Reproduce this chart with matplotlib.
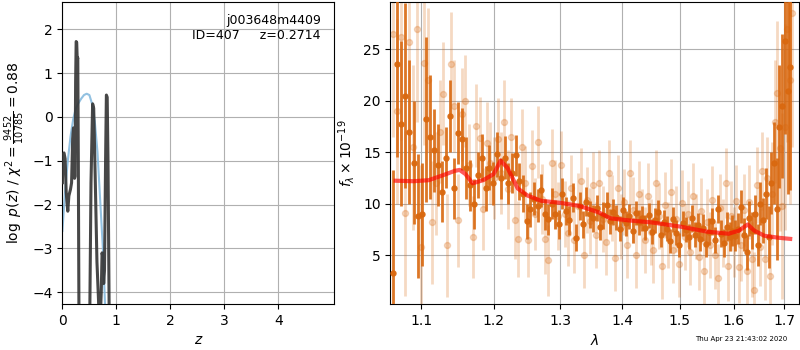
import numpy as np
import matplotlib
matplotlib.use('Agg')
import matplotlib.pyplot as plt
from matplotlib.ticker import NullLocator, FixedLocator

# redshift PDF
z_pdf = [0.0, 0.01, 0.03, 0.05, 0.07, 0.085, 0.1, 0.12, 0.15, 0.17, 0.19, 0.205, 0.215,
         0.225, 0.235, 0.245, 0.255, 0.265, 0.275, 0.285, 0.295, 0.31, 0.45, 0.5, 0.53,
         0.56, 0.58, 0.61, 0.64, 0.67, 0.69, 0.72, 0.735, 0.75, 0.765, 0.78, 0.8, 0.815,
         0.83, 0.845, 0.87, 0.9]
logp = [-1.5, -0.85, -0.82, -0.95, -1.7, -1.95, -2.15, -1.8, -1.65, -1.5, -0.5, -0.25, -0.3,
        -1.4, -1.35, 0.8, 1.72, 1.7, 1.3, 1.35, -1.0, -5.5, -8.0, -5.5, -1.5,
        0.3, 0.2, -1.5, -3.3, -4.2, -5.0, -4.0, -3.1, -3.2, -3.8, -3.5, -1.0, 0.5,
        0.45, -1.0, -5.0, -8.0]

z_smooth = [0.0, 0.05, 0.1, 0.15, 0.2, 0.25, 0.3, 0.35, 0.4, 0.45, 0.5, 0.55, 0.6, 0.65,
            0.7, 0.75, 0.8]
logp_smooth = [-2.6, -1.7, -1.0, -0.45, -0.05, 0.2, 0.32, 0.42, 0.5, 0.53, 0.5, 0.3, -0.1,
               -0.8, -1.9, -3.0, -4.6]

# spectrum 1 (dark)
wave1 = np.linspace(1.063, 1.712, 120)
flux1 = [3.3, 23.6, 17.8, 20.5, 17.0, 14.0, 8.8, 9.0, 18.2, 16.5,
         15.2, 13.8, 11.2, 14.5, 18.5, 11.5, 16.9, 16.3, 13.5, 11.8,
         10.0, 12.8, 14.5, 11.5, 13.5, 12.0, 14.8, 12.5, 14.5, 12.0,
         13.0, 14.7, 12.2, 11.0, 8.3, 9.5, 10.5, 9.8, 11.3, 9.0,
         8.5, 10.0, 9.0, 8.0, 11.0, 9.3, 8.4, 10.6, 6.7, 9.8,
         8.0, 10.2, 9.0, 8.6, 9.6, 7.8, 8.9, 9.9, 8.3, 9.2,
         8.7, 7.6, 9.4, 8.1, 8.8, 7.4, 9.1, 8.2, 8.6, 7.7,
         8.9, 7.3, 8.4, 9.2, 7.0, 8.2, 7.6, 6.4, 8.5, 7.2,
         6.0, 8.1, 7.5, 6.8, 8.6, 7.0, 7.9, 6.6, 7.7, 6.1,
         7.3, 8.3, 6.5, 9.5, 7.1, 6.2, 7.8, 6.8, 7.4, 6.9,
         7.6, 9.7, 7.0, 5.3, 8.6, 7.4, 9.0, 6.0, 10.0, 8.4,
         11.0, 6.8, 12.0, 14.0, 9.5, 17.5, 19.5, 25.8, 21.0, 23.3]
err1 = [10, 9, 8, 9, 7, 6, 6, 5, 8, 6,
        4, 4, 3, 3, 3.5, 3, 3, 3, 3, 2.5,
        2.4, 2.2, 2.3, 2.2, 2.2, 2.1, 2.2, 2.0, 2.1, 2.0,
        1.9, 2.0, 1.8, 1.8, 1.7, 1.7, 1.6, 1.6, 1.6, 1.5,
        1.5, 1.5, 1.4, 1.4, 1.5, 1.4, 1.4, 1.4, 1.3, 1.4,
        1.3, 1.4, 1.3, 1.3, 1.3, 1.3, 1.3, 1.3, 1.2, 1.3,
        1.2, 1.2, 1.3, 1.2, 1.2, 1.2, 1.2, 1.2, 1.2, 1.2,
        1.2, 1.2, 1.2, 1.2, 1.2, 1.2, 1.2, 1.2, 1.2, 1.2,
        1.2, 1.2, 1.2, 1.2, 1.3, 1.2, 1.2, 1.2, 1.3, 1.3,
        1.3, 1.3, 1.3, 1.4, 1.3, 1.4, 1.4, 1.4, 1.5, 1.5,
        1.5, 1.6, 1.6, 1.7, 1.7, 1.8, 1.9, 2.0, 2.1, 2.2,
        2.5, 3, 3, 4, 5, 6, 7, 9, 10, 12]

# spectrum 2 (light)
wave2 = np.linspace(1.064, 1.716, 130)
flux2 = [26.5, 19.0, 26.2, 9.1, 25.7, 15.5, 27.0, 5.8, 23.7, 22.0,
         8.2, 12.0, 17.0, 20.7, 6.0, 23.6, 19.5, 8.4, 18.7, 20.0,
         13.8, 6.8, 17.6, 16.4, 9.5, 15.9, 14.0, 12.5, 16.3, 13.0,
         18.0, 11.4, 16.5, 8.4, 6.6, 15.5, 12.0, 6.5, 13.7, 9.0,
         16.0, 10.5, 6.6, 4.5, 14.0, 11.0, 8.8, 13.8, 9.0, 7.2,
         11.5, 6.5, 9.8, 12.2, 5.0, 10.4, 8.3, 11.8, 7.0, 12.0,
         8.5, 6.3, 13.0, 9.6, 4.7, 11.5, 7.8, 10.2, 6.0, 13.0,
         9.4, 5.0, 11.0, 8.2, 6.5, 10.8, 7.3, 5.5, 12.0, 8.8,
         4.0, 9.9, 7.0, 11.2, 5.5, 8.5, 4.2, 10.1, 6.8, 9.0,
         5.3, 10.8, 7.8, 4.8, 9.3, 3.5, 8.2, 6.0, 10.4, 5.0,
         2.8, 9.6, 7.2, 12.0, 4.0, 8.8, 6.3, 10.3, 3.9, 6.0,
         9.4, 3.5, 10.2, 4.6, 1.6, 11.8, 5.8, 13.2, 4.6, 12.5,
         3.0, 11.0, 18.0, 20.8, 15.4, 9.8, 17.5, 27.0, 22.0, 28.5]
err2 = [10, 9, 10, 8, 9, 8, 9, 8, 8, 7,
        6, 5, 5, 5, 5, 5, 4.5, 4.5, 4.5, 4.5,
        4, 4, 4, 4, 4, 4, 4, 4, 4, 4,
        4, 3.8, 3.8, 3.8, 3.7, 3.7, 3.6, 3.6, 3.5, 3.5,
        3.5, 3.4, 3.4, 3.4, 3.3, 3.3, 3.3, 3.3, 3.2, 3.2,
        3.2, 3.2, 3.2, 3.2, 3.2, 3.2, 3.2, 3.2, 3.2, 3.2,
        3.2, 3.2, 3.2, 3.2, 3.2, 3.2, 3.2, 3.2, 3.2, 3.2,
        3.2, 3.2, 3.2, 3.2, 3.2, 3.2, 3.2, 3.2, 3.2, 3.2,
        3.2, 3.2, 3.2, 3.2, 3.2, 3.2, 3.2, 3.2, 3.2, 3.2,
        3.2, 3.2, 3.2, 3.2, 3.2, 3.2, 3.2, 3.2, 3.3, 3.3,
        3.3, 3.3, 3.3, 3.4, 3.4, 3.4, 3.4, 3.5, 3.5, 3.5,
        3.5, 3.5, 3.6, 3.6, 3.7, 3.7, 3.8, 3.8, 3.9, 4.0,
        4, 5, 6, 7, 8, 9, 10, 11, 12, 13]

# best-fit model
wave_model = [1.067, 1.09, 1.11, 1.13, 1.145, 1.152, 1.16, 1.17, 1.185, 1.2, 1.21, 1.22,
              1.235, 1.25, 1.27, 1.3, 1.33, 1.36, 1.38, 1.41, 1.45, 1.5, 1.55, 1.59,
              1.61, 1.627, 1.64, 1.66, 1.69, 1.712]
flux_model = [12.25, 12.2, 12.3, 12.8, 13.2, 13.3, 12.9, 12.0, 12.3, 12.9, 14.2, 13.5,
              11.5, 10.8, 10.3, 10.1, 9.8, 9.2, 8.6, 8.4, 8.2, 7.8, 7.3, 7.1,
              7.4, 8.0, 7.4, 6.9, 6.7, 6.6]

wave_ticks = [1.1, 1.2, 1.3, 1.4, 1.5, 1.6, 1.7]

orange = '#d9680f'

fig = plt.figure(figsize=(8, 3.5), dpi=100)

ax = fig.add_axes([0.078, 0.131, 0.34, 0.863])
ax.plot(z_smooth, logp_smooth, color='#7fb6dc', alpha=0.85, lw=1.5, zorder=2)
ax.plot(z_pdf, logp, color='0.2', alpha=0.9, lw=2.2, zorder=3)
ax.set_xlim(0, 5.04)
ax.set_ylim(-4.27, 2.62)
ax.set_xticks([0, 1, 2, 3, 4])
ax.set_yticks([-4, -3, -2, -1, 0, 1, 2])
ax.grid(True)
ax.set_axisbelow(True)
ax.set_xlabel(r'$z$')
ax.set_ylabel(r'$\log\ p(z)$ / $\chi^2=\frac{9452}{10785}=0.88$')
ax.text(0.95, 0.96, 'j003648m4409\nID=407     z=0.2714', transform=ax.transAxes,
        ha='right', va='top', fontsize=9)

ax2 = fig.add_axes([0.488, 0.131, 0.511, 0.863])
ax2.errorbar(wave2, flux2, yerr=err2, color=orange, alpha=0.25, marker='o', ms=4.3,
             linestyle='none', elinewidth=2, zorder=2)
ax2.errorbar(wave1, flux1, yerr=err1, color=orange, alpha=0.9, marker='o', ms=3.6,
             linestyle='none', elinewidth=2, zorder=3)
ax2.plot(wave_model, flux_model, color='r', alpha=0.65, lw=3, zorder=4)
ax2.set_xscale('log')
ax2.set_xlim(1.0603, 1.7306)
ax2.set_ylim(0.26, 29.6)
ax2.xaxis.set_major_locator(FixedLocator(wave_ticks))
ax2.xaxis.set_minor_locator(NullLocator())
ax2.set_xticklabels(['%.1f' % w for w in wave_ticks])
ax2.set_yticks([5, 10, 15, 20, 25])
ax2.grid(True)
ax2.set_axisbelow(True)
ax2.set_xlabel(r'$\lambda$')
ax2.set_ylabel(r'$f_\lambda\times10^{-19}$')

fig.text(0.984, 0.03, 'Thu Apr 23 21:43:02 2020', ha='right', va='center', fontsize=5)

fig.savefig('out.png', dpi=100)
